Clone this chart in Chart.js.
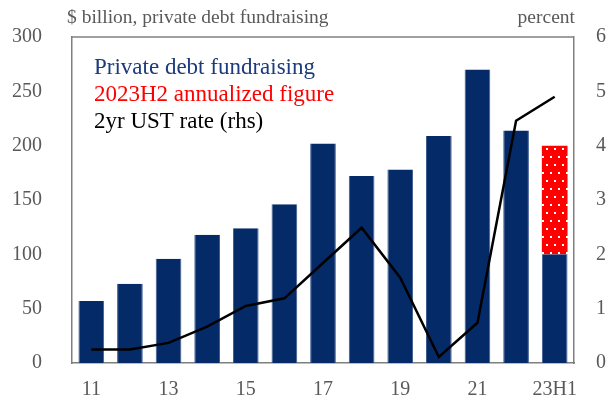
<!DOCTYPE html>
<html>
<head>
<meta charset="utf-8">
<script src="https://cdn.jsdelivr.net/npm/chart.js@4"></script>
<style>
  html, body { margin: 0; padding: 0; background: #fff; }
  #wrap { width: 610px; height: 400px; }
</style>
</head>
<body>
<div id="wrap"><canvas id="debtChart" width="610" height="400"></canvas></div>
<script>
// Recaudación de deuda privada vs. tasa UST a 2 años
const years = ['11', '12', '13', '14', '15', '16', '17', '18', '19', '20', '21', '22', '23H1']
const fundraising = [57, 73, 96, 118, 124, 146, 202, 172, 178, 209, 270, 214, 100]
const annualized = [null, null, null, null, null, null, null, null, null, null, null, null, 100]
const ustRate = [0.25, 0.25, 0.37, 0.67, 1.05, 1.19, 1.84, 2.49, 1.57, 0.11, 0.74, 4.46, 4.9]

const leftTicks = [0, 50, 100, 150, 200, 250, 300]
const rightTicks = [0, 1, 2, 3, 4, 5, 6]

const FONT = '"Liberation Serif", "DejaVu Serif", serif'
const GREY = '#595959'
const NAVY = '#052a68'

// patrón rojo con puntos blancos
const dotPattern = () => {
    const c = document.createElement('canvas')
    c.width = 8
    c.height = 16
    const ctx = c.getContext('2d')
    ctx.fillStyle = '#ff0000'
    ctx.fillRect(0, 0, 8, 16)
    ctx.fillStyle = '#ffffff'
    ctx.fillRect(2, 4, 2, 2)
    ctx.fillRect(6, 12, 2, 2)
    return ctx.createPattern(c, 'repeat')
}

// textos de cabecera y leyenda
const textPlugin = {
    id: 'texts',
    afterDraw(chart) {
        const {ctx, chartArea} = chart
        ctx.save()
        ctx.font = '19.5px ' + FONT
        ctx.textBaseline = 'middle'
        ctx.fillStyle = GREY
        ctx.textAlign = 'left'
        ctx.fillText('$ billion, private debt fundraising', 67, 18)
        ctx.textAlign = 'right'
        ctx.fillText('percent', chartArea.right + 1, 18)

        const legend = [
            {text: chart.data.datasets[0].label, color: '#1c3a7c'},
            {text: chart.data.datasets[1].label, color: '#ff0000'},
            {text: chart.data.datasets[2].label, color: '#000000'},
        ]
        ctx.textAlign = 'left'
        ctx.font = '23px ' + FONT
        legend.forEach((item, i) => {
            ctx.fillStyle = item.color
            ctx.fillText(item.text, 94, 68 + i * 27)
        })
        ctx.restore()
    }
}

new Chart(document.querySelector('#debtChart'), {
    type: 'bar',
    data: {
        labels: years,
        datasets: [
            {
                label: 'Private debt fundraising',
                data: fundraising,
                backgroundColor: NAVY,
                borderColor: '#3d5a8f',
                borderWidth: {left: 1, right: 1, top: 0, bottom: 0},
                barPercentage: 0.665,
                categoryPercentage: 1,
                yAxisID: 'y',
                order: 1
            },
            {
                label: '2023H2 annualized figure',
                data: annualized,
                backgroundColor: dotPattern(),
                borderWidth: 0,
                barPercentage: 0.665,
                categoryPercentage: 1,
                yAxisID: 'y',
                order: 1
            },
            {
                type: 'line',
                label: '2yr UST rate (rhs)',
                data: ustRate,
                borderColor: '#000000',
                borderWidth: 2.5,
                pointRadius: 0,
                tension: 0,
                yAxisID: 'y1',
                order: 0
            }
        ]
    },
    options: {
        responsive: false,
        animation: false,
        layout: {padding: {top: 37, left: 0, right: 0, bottom: 0}},
        plugins: {
            legend: {display: false},
            tooltip: {enabled: false}
        },
        scales: {
            x: {
                stacked: true,
                grid: {display: false},
                border: {display: true, color: '#7f7f7f', width: 1.5},
                ticks: {
                    autoSkip: false,
                    maxRotation: 0,
                    padding: 7,
                    color: GREY,
                    font: {family: FONT, size: 20},
                    callback: (v, i) => (i % 2 === 0 ? years[i] : '')
                },
                afterFit: (s) => { s.height = 37 }
            },
            y: {
                stacked: true,
                position: 'left',
                min: 0,
                max: 300,
                grid: {display: false},
                border: {display: true, color: '#7f7f7f', width: 1.5},
                afterBuildTicks: (s) => { s.ticks = leftTicks.map(v => ({value: v})) },
                ticks: {
                    padding: 22,
                    color: GREY,
                    font: {family: FONT, size: 20}
                },
                afterFit: (s) => { s.width = 72 }
            },
            y1: {
                position: 'right',
                min: 0,
                max: 6,
                grid: {display: false},
                border: {display: true, color: '#7f7f7f', width: 1.5},
                afterBuildTicks: (s) => { s.ticks = rightTicks.map(v => ({value: v})) },
                ticks: {
                    padding: 14,
                    color: GREY,
                    font: {family: FONT, size: 20}
                },
                afterFit: (s) => { s.width = 36 }
            }
        }
    },
    plugins: [
        textPlugin,
        {
            // línea superior del marco
            id: 'topBorder',
            beforeDatasetsDraw(chart) {
                const {ctx, chartArea} = chart
                ctx.save()
                ctx.strokeStyle = '#7f7f7f'
                ctx.lineWidth = 1.5
                ctx.beginPath()
                ctx.moveTo(chartArea.left, chartArea.top)
                ctx.lineTo(chartArea.right, chartArea.top)
                ctx.stroke()
                ctx.restore()
            }
        }
    ]
});
</script>
</body>
</html>
